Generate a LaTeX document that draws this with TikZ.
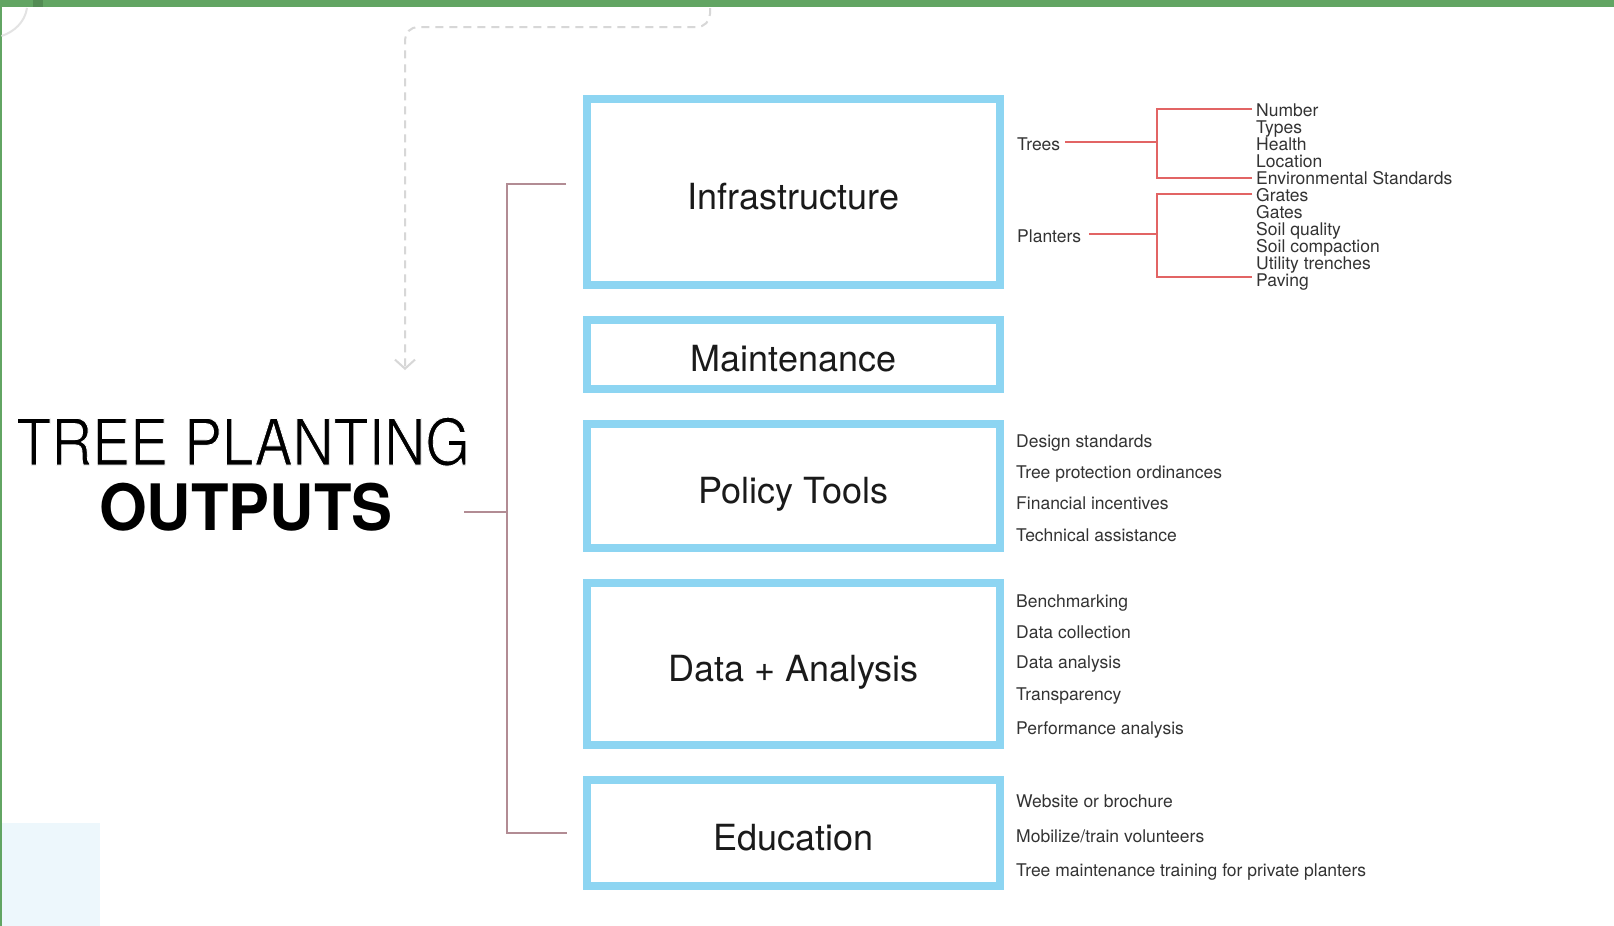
\documentclass[tikz,border=0pt]{standalone}
\usepackage{fontspec}
\usepackage{graphicx}
\setmainfont{TeX Gyre Heros}
\usetikzlibrary{arrows.meta}
\definecolor{topgreen}{RGB}{98,165,99}
\definecolor{boxblue}{RGB}{141,213,242}
\definecolor{mauve}{RGB}{178,140,148}
\definecolor{redline}{RGB}{226,100,100}
\definecolor{dashgray}{RGB}{215,215,215}
\definecolor{listgray}{RGB}{51,51,51}
\definecolor{paleblue}{RGB}{237,247,252}
\definecolor{boxtext}{RGB}{26,26,26}
\newcommand{\thinletters}[1]{\special{pdf:literal direct 2 Tr 1 1 1 RG 0.9 w}#1\special{pdf:literal direct 0 Tr 0 0 0 RG}}
\begin{document}
\begin{tikzpicture}[x=1pt,y=-1pt,
  outbox/.style={draw=boxblue, line width=8pt, minimum width=413pt, inner sep=0pt,
    text height=34pt, text depth=0pt, font=\fontsize{36}{36}\selectfont, text=boxtext},
  item/.style={anchor=base west, inner sep=0pt, font=\fontsize{17.5}{17.5}\selectfont, text=listgray},
  bracket/.style={draw=mauve, line width=2.5pt},
  redbr/.style={draw=redline, line width=2pt},
  guide/.style={draw=dashgray, line width=2pt, dash pattern=on 8pt off 6pt, rounded corners=13pt}
]
\useasboundingbox (0,0) rectangle (1614,926);
\fill[white] (0,0) rectangle (1614,926);
\fill[paleblue] (0,823) rectangle (100,926);
\fill[topgreen] (0,0) rectangle (1614,7);
\fill[topgreen!85!black] (33,0) rectangle (43,7);
\fill[topgreen] (0,0) rectangle (1.5,926);
\draw[dashgray!70, line width=2pt] (27,8) .. controls (25,22) and (14,32) .. (1.5,36);

% dashed guide
\draw[guide, -{Straight Barb[length=9pt,width=20pt]}] (710,8) -- (710,27) -- (405,27) -- (405,370);

% boxes
\node[outbox, minimum height=186pt] (infra) at (793.5,192) {Infrastructure};
\node[outbox, minimum height=69pt] (maint) at (793.5,354.5) {Maintenance};
\node[outbox, minimum height=124pt] (policy) at (793.5,486) {Policy Tools};
\node[outbox, minimum height=162pt] (data) at (793.5,664) {Data + Analysis};
\node[outbox, minimum height=106pt] (edu) at (793.5,833) {Education};

% left bracket
\coordinate (trunk) at (507,512);
\coordinate (stub) at (464,512);
\draw[bracket] ([shift={(-17pt,8pt)}]infra.west) -| (trunk) |- ([xshift=-16pt]edu.west);
\draw[bracket] (stub) -- (trunk);

% infrastructure details
\node[item] (trees) at (1017,150) {Trees};
\node[item] (planters) at (1017,242) {Planters};
\node[item] (n1) at (1256,116.7) {Number};
\node[item] (n2) at (1256,133.7) {Types};
\node[item] (n3) at (1256,150.7) {Health};
\node[item] (n4) at (1256,167.7) {Location};
\node[item] (n5) at (1256,184.7) {Environmental Standards};
\node[item] (n6) at (1256,201.7) {Grates};
\node[item] (n7) at (1256,218.7) {Gates};
\node[item] (n8) at (1256,235.7) {Soil quality};
\node[item] (n9) at (1256,252.7) {Soil compaction};
\node[item] (n10) at (1256,269.7) {Utility trenches};
\node[item] (n11) at (1256,286.7) {Paving};

\coordinate (tj) at (1157,142);
\coordinate (pj) at (1157,234);
\draw[redbr] ([shift={(5pt,8pt)}]trees.base east) -- (tj);
\draw[redbr] ([shift={(-4pt,8pt)}]n1.base west) -| (tj) |- ([shift={(-4pt,7pt)}]n5.base west);
\draw[redbr] ([shift={(8pt,8pt)}]planters.base east) -- (pj);
\draw[redbr] ([shift={(-4pt,8pt)}]n6.base west) -| (pj) |- ([shift={(-4pt,10pt)}]n11.base west);

% policy tools
\node[item] (p1) at (1016,447) {Design standards};
\node[item] (p2) at (1016,478) {Tree protection ordinances};
\node[item] (p3) at (1016,509) {Financial incentives};
\node[item] (p4) at (1016,541) {Technical assistance};

% data + analysis
\node[item] (d1) at (1016,607) {Benchmarking};
\node[item] (d2) at (1016,638) {Data collection};
\node[item] (d3) at (1016,668) {Data analysis};
\node[item] (d4) at (1016,700) {Transparency};
\node[item] (d5) at (1016,734) {Performance analysis};

% education
\node[item] (e1) at (1016,807) {Website or brochure};
\node[item] (e2) at (1016,842) {Mobilize/train volunteers};
\node[item] (e3) at (1016,876) {Tree maintenance training for private planters};

% title (drawn last)
\node[anchor=base, inner sep=0pt, font=\fontsize{64}{64}\selectfont\bfseries] (outp) at (246,530) {\scalebox{0.96}[1]{OUTPUTS}};
\node[anchor=base, inner sep=0pt, font=\fontsize{64}{64}\selectfont] (tp) at (243,465) {\scalebox{0.89}[1]{\thinletters{TREE PLANTING}}};
\end{tikzpicture}
\end{document}
